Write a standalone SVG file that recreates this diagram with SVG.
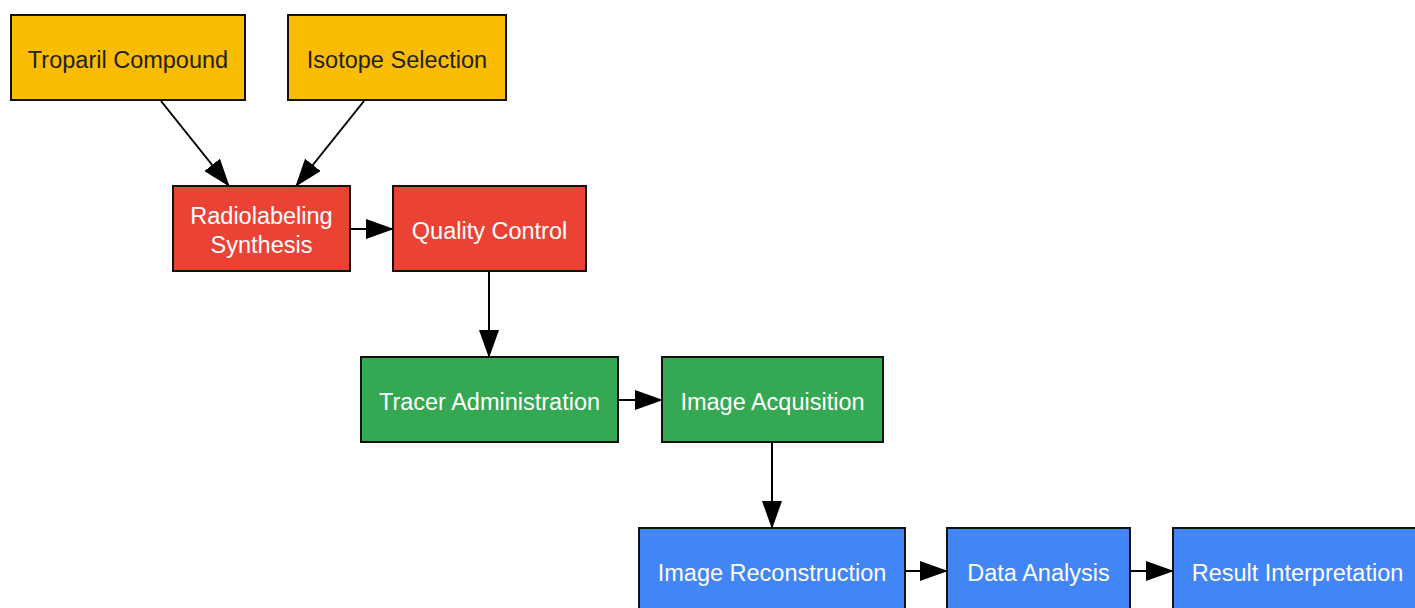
<svg xmlns="http://www.w3.org/2000/svg" width="1415" height="608" viewBox="0 0 1415 608">
<style>
.box{stroke:#111;stroke-width:2}
.y{fill:#FBBC04}.r{fill:#EA4335}.g{fill:#34A853}.b{fill:#4285F4}
text{font-family:"Liberation Sans",Arial,sans-serif;font-size:23.5px;text-anchor:middle;dominant-baseline:central}
.dk{fill:#222}.wt{fill:#fff}
.edge{stroke:#000;stroke-width:2;fill:none;marker-end:url(#ah)}
</style>
<defs>
<marker id="ah" viewBox="0 0 28 20" refX="27" refY="10" markerWidth="28" markerHeight="20" markerUnits="userSpaceOnUse" orient="auto">
<path d="M0,0 L28,10 L0,20 z" fill="#000"/>
</marker>
</defs>
<rect width="1415" height="608" fill="#fff"/>
<g id="connectors">
<line class="edge" x1="161" y1="101" x2="229" y2="186"/>
<line class="edge" x1="364" y1="101" x2="296" y2="186"/>
<line class="edge" x1="350" y1="229" x2="393" y2="229"/>
<line class="edge" x1="489" y1="271" x2="489" y2="357"/>
<line class="edge" x1="618" y1="400" x2="662" y2="400"/>
<line class="edge" x1="772" y1="443" x2="772" y2="528"/>
<line class="edge" x1="905" y1="571" x2="947" y2="571"/>
<line class="edge" x1="1130" y1="571" x2="1173" y2="571"/>
</g>
<g id="troparil"><rect class="box y" x="11" y="15" width="234" height="85"/><text class="dk" x="128" y="59.5">Troparil Compound</text></g>
<g id="isotope"><rect class="box y" x="288" y="15" width="218" height="85"/><text class="dk" x="397" y="59.5">Isotope Selection</text></g>
<g id="radiolabeling"><rect class="box r" x="173" y="186" width="177" height="85"/><text class="wt" x="261.5" y="215.5">Radiolabeling</text><text class="wt" x="261.5" y="244.5">Synthesis</text></g>
<g id="quality"><rect class="box r" x="393" y="186" width="193" height="85"/><text class="wt" x="489.5" y="230.5">Quality Control</text></g>
<g id="tracer"><rect class="box g" x="361" y="357" width="257" height="85"/><text class="wt" x="489.5" y="401.5">Tracer Administration</text></g>
<g id="acquisition"><rect class="box g" x="662" y="357" width="221" height="85"/><text class="wt" x="772.5" y="401.5">Image Acquisition</text></g>
<g id="reconstruction"><rect class="box b" x="639" y="528" width="266" height="85"/><text class="wt" x="772" y="572.5">Image Reconstruction</text></g>
<g id="analysis"><rect class="box b" x="947" y="528" width="183" height="85"/><text class="wt" x="1038.5" y="572.5">Data Analysis</text></g>
<g id="interpretation"><rect class="box b" x="1173" y="528" width="249" height="85"/><text class="wt" x="1297.5" y="572.5">Result Interpretation</text></g>
</svg>
